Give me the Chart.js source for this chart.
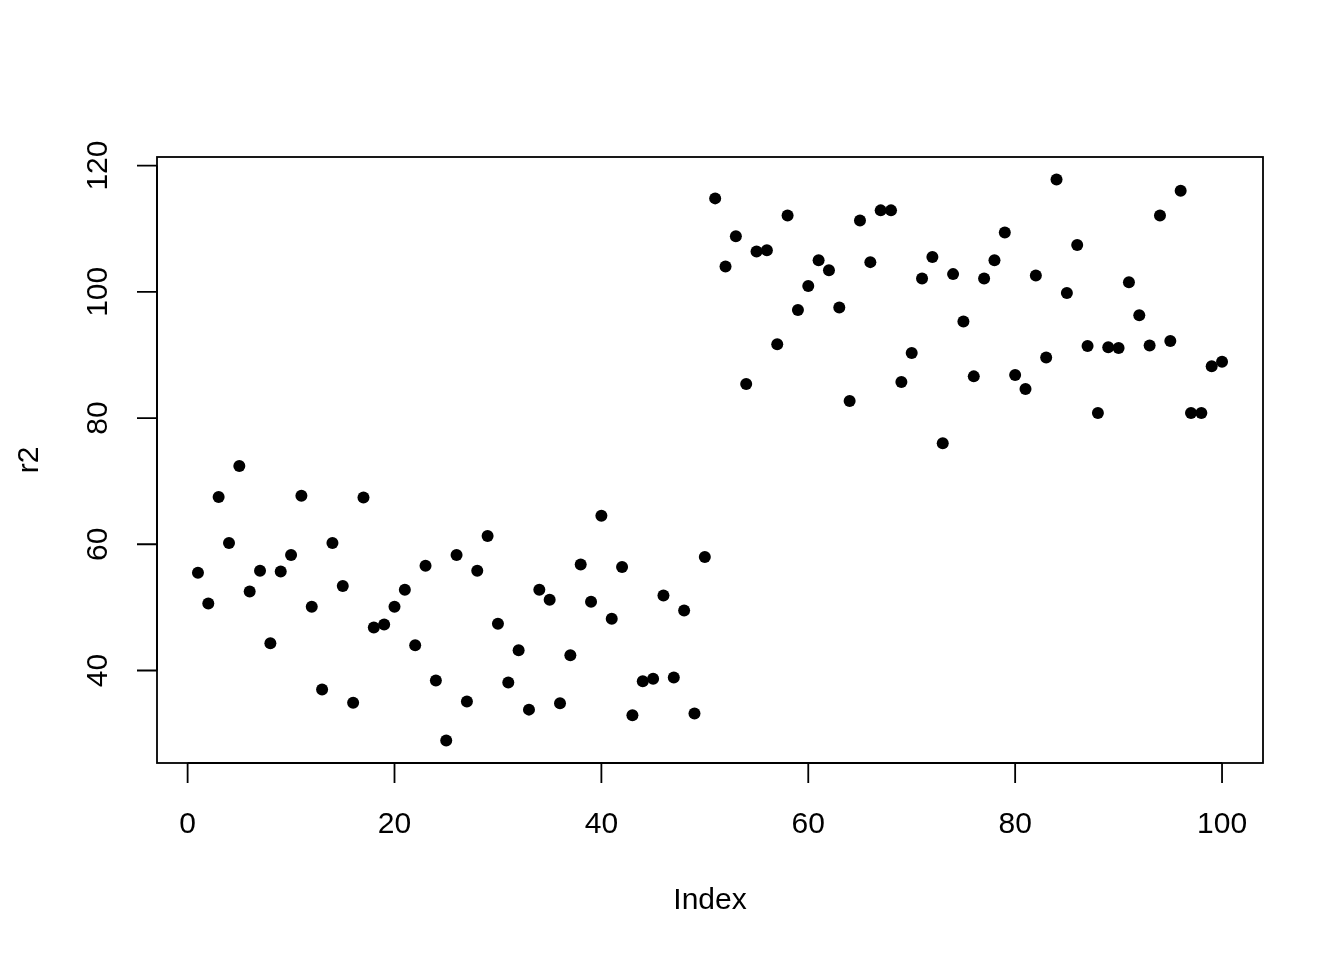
<!DOCTYPE html>
<html>
<head>
<meta charset="utf-8">
<script src="https://cdn.jsdelivr.net/npm/chart.js@4/dist/chart.umd.min.js"></script>
<style>
  html, body { margin: 0; padding: 0; background: #fff; }
  #wrap { width: 1344px; height: 960px; }
</style>
</head>
<body>
<div id="wrap"><canvas id="c" width="1344" height="960"></canvas></div>
<script>
// r2 values, index 1..100
var r2 = [
  55.5, 50.6, 67.5, 60.2, 72.4, 52.5, 55.8, 44.3, 55.7, 58.3,
  67.7, 50.1, 37.0, 60.2, 53.4, 34.9, 67.4, 46.8, 47.3, 50.1,
  52.8, 44.0, 56.6, 38.4, 28.9, 58.3, 35.1, 55.8, 61.3, 47.4,
  38.1, 43.2, 33.8, 52.8, 51.2, 34.8, 42.4, 56.8, 50.9, 64.5,
  48.2, 56.4, 32.9, 38.3, 38.7, 51.9, 38.9, 49.5, 33.2, 58.0,
  114.8, 104.0, 108.8, 85.4, 106.4, 106.6, 91.7, 112.1, 97.1, 100.9,
  105.0, 103.4, 97.5, 82.7, 111.3, 104.7, 112.9, 112.9, 85.7, 90.3,
  102.1, 105.5, 76.0, 102.8, 95.3, 86.6, 102.1, 105.0, 109.4, 86.8,
  84.6, 102.6, 89.6, 117.8, 99.8, 107.4, 91.4, 80.8, 91.2, 91.1,
  101.5, 96.3, 91.5, 112.1, 92.2, 116.0, 80.8, 80.8, 88.2, 88.9
];
var xTicks = [0, 20, 40, 60, 80, 100];
var yTicks = [40, 60, 80, 100, 120];
var xTitle = "Index";
var yTitle = "r2";

var points = r2.map(function (v, i) { return { x: i + 1, y: v }; });

// R-style limits: data range widened by 4% on each side
function rLim(lo, hi) { var d = (hi - lo) * 0.04; return [lo - d, hi + d]; }
var xl = rLim(1, r2.length);
var yl = rLim(Math.min.apply(null, r2), Math.max.apply(null, r2));

var FONT = "30px 'Liberation Sans', Arial, Helvetica, sans-serif";

var rAxes = {
  id: "rAxes",
  afterDraw: function (chart) {
    var ctx = chart.ctx, a = chart.chartArea;
    var xs = chart.scales.x, ys = chart.scales.y;
    ctx.save();
    ctx.strokeStyle = "#000";
    ctx.fillStyle = "#000";
    ctx.lineWidth = 1.8;
    ctx.strokeRect(a.left, a.top, a.right - a.left, a.bottom - a.top);

    ctx.font = FONT;
    // x axis
    ctx.beginPath();
    ctx.moveTo(xs.getPixelForValue(xTicks[0]), a.bottom);
    ctx.lineTo(xs.getPixelForValue(xTicks[xTicks.length - 1]), a.bottom);
    xTicks.forEach(function (t) {
      var px = xs.getPixelForValue(t);
      ctx.moveTo(px, a.bottom);
      ctx.lineTo(px, a.bottom + 20);
    });
    ctx.stroke();
    ctx.textAlign = "center";
    ctx.textBaseline = "middle";
    xTicks.forEach(function (t) {
      ctx.fillText(String(t), xs.getPixelForValue(t), a.bottom + 62);
    });

    // y axis
    ctx.beginPath();
    ctx.moveTo(a.left, ys.getPixelForValue(yTicks[0]));
    ctx.lineTo(a.left, ys.getPixelForValue(yTicks[yTicks.length - 1]));
    yTicks.forEach(function (t) {
      var py = ys.getPixelForValue(t);
      ctx.moveTo(a.left, py);
      ctx.lineTo(a.left - 20, py);
    });
    ctx.stroke();
    yTicks.forEach(function (t) {
      ctx.save();
      ctx.translate(a.left - 58, ys.getPixelForValue(t));
      ctx.rotate(-Math.PI / 2);
      ctx.fillText(String(t), 0, 0);
      ctx.restore();
    });

    // titles
    ctx.fillText(xTitle, (a.left + a.right) / 2, a.bottom + 138);
    ctx.save();
    ctx.translate(a.left - 127, (a.top + a.bottom) / 2);
    ctx.rotate(-Math.PI / 2);
    ctx.fillText(yTitle, 0, 0);
    ctx.restore();
    ctx.restore();
  }
};

new Chart(document.getElementById("c"), {
  type: "scatter",
  data: {
    datasets: [{
      data: points,
      pointRadius: 6,
      pointHoverRadius: 6,
      pointBackgroundColor: "#000",
      pointBorderWidth: 0,
      borderColor: "#000"
    }]
  },
  options: {
    responsive: false,
    animation: false,
    events: [],
    layout: { padding: { left: 157, right: 81, top: 157, bottom: 197 } },
    plugins: { legend: { display: false }, tooltip: { enabled: false } },
    scales: {
      x: { type: "linear", display: false, min: xl[0], max: xl[1] },
      y: { type: "linear", display: false, min: yl[0], max: yl[1] }
    }
  },
  plugins: [rAxes]
});
</script>
</body>
</html>
